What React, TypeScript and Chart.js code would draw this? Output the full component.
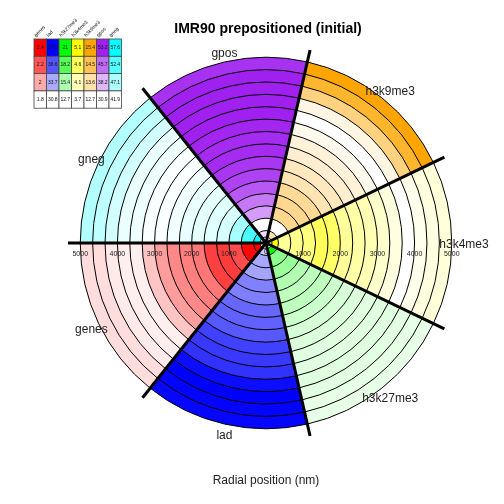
import React, { useEffect, useRef } from "react";
import { Chart, registerables } from "chart.js";
Chart.register(...registerables);

const chartTitle = "IMR90 prepositioned (initial)";
const axisTitle = "Radial position (nm)";
const sectorLabels = ["gneg", "gpos", "h3k9me3", "h3k4me3", "h3k27me3", "lad", "genes"];
const ringOuterEdges = [333, 667, 1000, 1333, 1667, 2000, 2333, 2667, 3000, 3333, 3667, 4000, 4333, 4667, 5000];
const centerHole = 160;
const tickValues = [1000, 2000, 3000, 4000, 5000];

// ring values, innermost ring first
const genesVals = [2.4, 2.38, 2.22, 2.26, 2.25, 2.12, 2.1, 2.08, 2.03, 1.94, 1.84, 1.84, 1.85, 1.88, 1.88];
const ladVals = [32.5, 33.8, 33.9, 35.1, 35.2, 36.0, 36.2, 36.5, 37.3, 37.6, 37.8, 39.1, 39.5, 39.4, 39.3];
const h3k27me3Vals = [21.0, 16.4, 16.0, 15.2, 14.8, 14.8, 14.4, 14.0, 13.9, 13.7, 13.7, 13.7, 13.6, 13.5, 13.5];
const h3k4me3Vals = [5.1, 4.26, 4.33, 4.4, 4.61, 4.54, 4.26, 4.19, 4.12, 3.98, 3.87, 3.7, 3.81, 3.87, 3.91];
const h3k9me3Vals = [13.6, 12.7, 13.9, 13.9, 13.8, 13.5, 13.4, 13.2, 13.1, 12.9, 12.7, 13.0, 14.05, 14.9, 15.4];
const gposVals = [34.2, 30.9, 40.9, 44.3, 47.6, 49.9, 51.0, 52.1, 52.1, 52.6, 53.2, 53.2, 53.2, 53.2, 51.4];
const gnegVals = [57.6, 52.9, 47.4, 44.3, 43.8, 43.5, 43.2, 42.7, 42.2, 42.2, 42.9, 43.2, 44.7, 45.8, 46.6];

// legend scale values (top row = full colour, bottom row = white)
const legendTracks = ["genes", "lad", "h3k27me3", "h3k4me3", "h3k9me3", "gpos", "gneg"];
const genesLegend = [2.4, 2.2, 2, 1.8];
const ladLegend = [39.5, 36.6, 33.7, 30.8];
const h3k27me3Legend = [21, 18.2, 15.4, 12.7];
const h3k4me3Legend = [5.1, 4.6, 4.1, 3.7];
const h3k9me3Legend = [15.4, 14.5, 13.6, 12.7];
const gposLegend = [53.2, 45.7, 38.2, 30.9];
const gnegLegend = [57.6, 52.4, 47.1, 41.9];

const trackVals: Record<string, number[]> = {
  genes: genesVals, lad: ladVals, h3k27me3: h3k27me3Vals, h3k4me3: h3k4me3Vals,
  h3k9me3: h3k9me3Vals, gpos: gposVals, gneg: gnegVals,
};
const trackLegend: Record<string, number[]> = {
  genes: genesLegend, lad: ladLegend, h3k27me3: h3k27me3Legend, h3k4me3: h3k4me3Legend,
  h3k9me3: h3k9me3Legend, gpos: gposLegend, gneg: gnegLegend,
};
const trackBase: Record<string, [number, number, number]> = {
  genes: [255, 0, 0], lad: [0, 0, 255], h3k27me3: [0, 255, 0], h3k4me3: [255, 255, 0],
  h3k9me3: [255, 165, 0], gpos: [160, 32, 240], gneg: [0, 255, 255],
};

function colorFor(track: string, v: number) {
  const leg = trackLegend[track];
  const hi = leg[0], lo = leg[leg.length - 1];
  let t = (v - lo) / (hi - lo);
  t = Math.max(0, Math.min(1, t));
  const b = trackBase[track];
  const c = b.map((x) => Math.round(255 * (1 - t) + x * t));
  return `rgb(${c[0]},${c[1]},${c[2]})`;
}

const FONT = '"Liberation Sans", Arial, sans-serif';

const decorPlugin = {
  id: "decor",
  afterDraw(chart: any) {
    const ctx = chart.ctx;
    const s = chart.scales.r;
    ctx.save();
    // title
    ctx.fillStyle = "#000";
    ctx.textAlign = "center";
    ctx.textBaseline = "middle";
    ctx.font = `bold 14px ${FONT}`;
    ctx.fillText(chartTitle, s.xCenter + 2, 29);
    ctx.font = `12px ${FONT}`;
    ctx.fillStyle = "#222";
    ctx.fillText(axisTitle, s.xCenter, 481);

    // sector labels
    ctx.font = `12px ${FONT}`;
    sectorLabels.forEach((lab, i) => {
      const p = s.getPointPosition(i + 0.5, s.drawingArea - 2);
      ctx.fillText(lab, p.x + 2, p.y + 2);
    });

    // tick labels along horizontal
    ctx.font = `7px ${FONT}`;
    ctx.fillStyle = "#222";
    tickValues.forEach((v) => {
      const d = s.getDistanceFromCenterForValue(v);
      ctx.fillText(String(v), s.xCenter - d, s.yCenter + 11);
      ctx.fillText(String(v), s.xCenter + d, s.yCenter + 11);
    });
    ctx.fillText("0", s.xCenter, s.yCenter + 9);

    // legend table
    const x0 = 34, y0 = 39, cw = 12.5, ch = 17.3;
    legendTracks.forEach((track, c) => {
      const x = x0 + c * cw;
      trackLegend[track].forEach((v, r) => {
        const y = y0 + r * ch;
        ctx.fillStyle = colorFor(track, v);
        ctx.fillRect(x, y, cw, ch);
        ctx.strokeStyle = "#444";
        ctx.lineWidth = 0.8;
        ctx.strokeRect(x, y, cw, ch);
        ctx.fillStyle = "#111";
        ctx.font = `5px ${FONT}`;
        ctx.textAlign = "center";
        ctx.textBaseline = "middle";
        ctx.fillText(String(v), x + cw / 2, y + ch / 2);
      });
      ctx.save();
      ctx.translate(x + 2, y0 - 2);
      ctx.rotate(-Math.PI / 4);
      ctx.fillStyle = "#111";
      ctx.font = `5px ${FONT}`;
      ctx.textAlign = "left";
      ctx.textBaseline = "alphabetic";
      ctx.fillText(track, 0, 0);
      ctx.restore();
    });
    ctx.restore();
  },
};

export default function App() {
  const ref = useRef<HTMLCanvasElement>(null);
  useEffect(() => {
    const canvas = ref.current!;
    const datasets: any[] = [];
    datasets.push({
      data: sectorLabels.map(() => centerHole),
      backgroundColor: "#ffffff",
      borderColor: "#000",
      borderWidth: 1,
    });
    ringOuterEdges.forEach((edge, k) => {
      datasets.push({
        data: sectorLabels.map(() => edge),
        backgroundColor: sectorLabels.map((sname) => colorFor(sname, trackVals[sname][k])),
        borderColor: "#000",
        borderWidth: 1,
      });
    });
    const chart = new Chart(canvas, {
      type: "polarArea",
      data: { labels: sectorLabels, datasets },
      options: {
        animation: false,
        responsive: false,
        devicePixelRatio: 1,
        layout: { padding: { left: 68, top: 45, right: 40, bottom: 63 } },
        plugins: { legend: { display: false }, tooltip: { enabled: false }, title: { display: false } },
        scales: {
          r: {
            min: 0,
            max: 5330,
            startAngle: 270,
            ticks: { display: false },
            grid: { display: false, z: 1 },
            angleLines: { display: true, color: "#000", lineWidth: 3 },
            pointLabels: { display: false },
          },
        },
      } as any,
      plugins: [decorPlugin],
    });
    return () => chart.destroy();
  }, []);
  return (
    <div style={{ position: "absolute", left: 0, top: 0, width: 504, height: 504, background: "#fff" }}>
      <canvas ref={ref} width={504} height={504} style={{ display: "block" }} />
    </div>
  );
}
